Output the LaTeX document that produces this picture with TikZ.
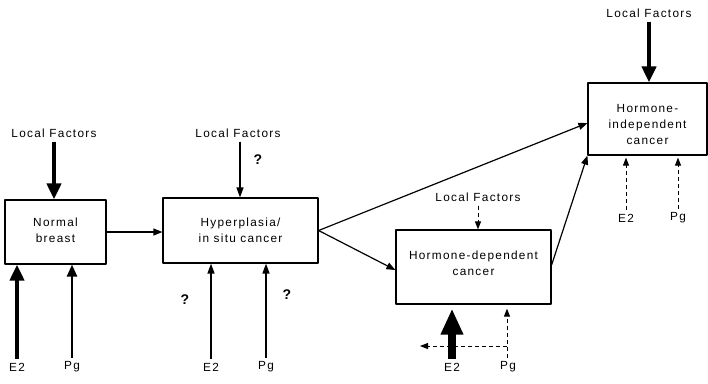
\documentclass[tikz,border=0pt]{standalone}
\usepackage{fontspec}
\setmainfont{Liberation Sans}[LetterSpace=11]
\usetikzlibrary{arrows.meta}

\begin{document}
\begin{tikzpicture}[x=1pt, y=-1pt, font=\fontsize{11.8}{16}\selectfont, line join=round, >=Triangle]
  \tikzset{
    stage/.style={draw, line width=1.2pt, inner sep=0pt},
    txt/.style={align=center, inner sep=0pt},
    lbl/.style={inner sep=4pt},
    query/.style={font=\fontsize{14}{14}\selectfont\bfseries},
    link/.style={line width=1.2pt, -{Triangle[width=7pt,length=9pt]}},
    weak/.style={line width=1.5pt, -{Triangle[width=7pt,length=10pt]}},
    medium/.style={line width=2.6pt, -{Triangle[width=10pt,length=12pt]}},
    strong/.style={line width=4pt, -{Triangle[width=14pt,length=16pt]}},
    heavy/.style={line width=8pt, -{Triangle[width=21pt,length=26pt]}},
    faint/.style={line width=1pt, dashed, dash pattern=on 4pt off 3pt, -{Triangle[width=6pt,length=8pt]}}
  }
  \useasboundingbox (0,0) rectangle (708,383);

  % stages
  \node[stage, minimum width=101pt, minimum height=64pt] (normal) at (55.5,232) {};
  \node[stage, minimum width=155pt, minimum height=65pt] (hyper) at (240.5,230.5) {};
  \node[stage, minimum width=155pt, minimum height=74pt] (hdep) at (473.5,267) {};
  \node[stage, minimum width=119pt, minimum height=72pt] (hindep) at (647.5,119) {};
  \node[txt] (normaltxt) at ([yshift=2pt]normal.center) {Normal\\breast};
  \node[txt] (hypertxt) at (hyper.center) {Hyperplasia/\\in situ cancer};
  \node[txt] (hdeptxt) at ([yshift=4pt]hdep.center) {Hormone-dependent\\cancer};
  \node[txt] (hindeptxt) at ([yshift=-5pt]hindep.center) {Hormone-\\independent\\cancer};

  % labels
  \node[lbl] (lfa) at (54,133) {Local Factors};
  \node[lbl] (lfb) at (238,133) {Local Factors};
  \node[lbl] (lfc) at (478,197) {Local Factors};
  \node[lbl] (lfd) at (649,13) {Local Factors};
  \node[lbl] (e2a) at (17,367) {E2};
  \node[lbl] (pga) at (72,367) {Pg};
  \node[lbl] (e2b) at (211,367) {E2};
  \node[lbl] (pgb) at (266,367) {Pg};
  \node[lbl] (e2c) at (452,367) {E2};
  \node[lbl] (pgc) at (508,367) {Pg};
  \node[lbl] (e2d) at (626,218) {E2};
  \node[lbl] (pgd) at (678,218) {Pg};
  \node[query] (qa) at (258,160) {?};
  \node[query] (qb) at (185,300) {?};
  \node[query] (qc) at (287,295) {?};

  % progression
  \draw[link] (normal.east) -- (normal.east -| hyper.west);
  \draw[link] (hyper.east) -- ([yshift=-4pt]hindep.west);
  \draw[link] (hyper.east) -- ([yshift=-3pt]hdep.west);
  \draw[link] ([yshift=2pt]hdep.east) -- (hindep.south west);

  % local factors
  \draw[strong] (lfa.south) -- (lfa.south |- normal.north);
  \draw[weak] ([xshift=2pt]lfb.south) -- ([xshift=2pt]lfb.south |- hyper.north);
  \draw[faint] (lfc.south) -- (lfc.south |- hdep.north);
  \draw[strong] (lfd.south) -- (lfd.south |- hindep.north);

  % hormones
  \draw[strong] (e2a.north) -- (e2a.north |- normal.south);
  \draw[medium] (pga.north) -- (pga.north |- normal.south);
  \draw[weak] (e2b.north) -- (e2b.north |- hyper.south);
  \draw[weak] (pgb.north) -- (pgb.north |- hyper.south);
  \coordinate (pgturn) at (507,346);
  \coordinate (pgout) at (420,346);
  \draw[faint] (pgturn) -- (pgout);
  \draw[heavy] (e2c.north) -- ([yshift=-4pt]e2c.north |- hdep.south);
  \draw[faint] ([xshift=-1pt]pgc.north) -- ([xshift=-1pt,yshift=-4pt]pgc.north |- hdep.south);
  \draw[faint] (e2d.north) -- ([yshift=-2pt]e2d.north |- hindep.south);
  \draw[faint] (pgd.north) -- ([yshift=-2pt]pgd.north |- hindep.south);
\end{tikzpicture}
\end{document}
